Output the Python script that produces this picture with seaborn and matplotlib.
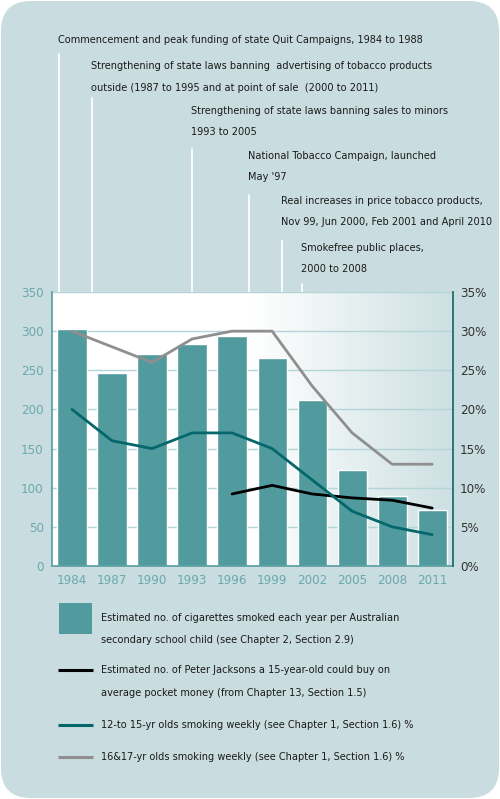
import numpy as np
import pandas as pd
import matplotlib.pyplot as plt
import seaborn as sns
from matplotlib.patches import FancyBboxPatch, Rectangle
from matplotlib.colors import LinearSegmentedColormap

years = ["1984", "1987", "1990", "1993", "1996", "1999", "2002", "2005", "2008", "2011"]
cigarettes = [303, 246, 271, 283, 294, 266, 212, 122, 90, 71]
pj_years = ["1996", "1999", "2002", "2005", "2008", "2011"]
peter_jacksons = [92, 103, 92, 87, 84, 74]
smoke_12_15 = [20, 16, 15, 17, 17, 15, 11, 7, 5, 4]
smoke_16_17 = [30, 28, 26, 29, 30, 30, 23, 17, 13, 13]

events = [
    ["Commencement and peak funding of state Quit Campaigns, 1984 to 1988"],
    ["Strengthening of state laws banning  advertising of tobacco products",
     "outside (1987 to 1995 and at point of sale  (2000 to 2011)"],
    ["Strengthening of state laws banning sales to minors", "1993 to 2005"],
    ["National Tobacco Campaign, launched", "May '97"],
    ["Real increases in price tobacco products,",
     "Nov 99, Jun 2000, Feb 2001 and April 2010"],
    ["Smokefree public places,", "2000 to 2008"],
]
legend_labels = [
    ["Estimated no. of cigarettes smoked each year per Australian",
     "secondary school child (see Chapter 2, Section 2.9)"],
    ["Estimated no. of Peter Jacksons a 15-year-old could buy on",
     "average pocket money (from Chapter 13, Section 1.5)"],
    ["12-to 15-yr olds smoking weekly (see Chapter 1, Section 1.6) %"],
    ["16&17-yr olds smoking weekly (see Chapter 1, Section 1.6) %"],
]

BG = "#c9dcdf"
BAR = "#519b9f"
TEAL = "#03676b"
GRAY = "#8f8f8f"
TICK = "#6aa9ad"

sns.set_theme(style="white")
plt.rcParams["font.family"] = ["DejaVu Sans"]
plt.rcParams["font.stretch"] = "condensed"

W, H = 500, 799
fig = plt.figure(figsize=(5, 7.99), dpi=100, facecolor="white")

# background canvas in pixel coordinates
bg = fig.add_axes([0, 0, 1, 1], zorder=0)
bg.set_xlim(0, W)
bg.set_ylim(H, 0)
bg.axis("off")
bg.add_patch(FancyBboxPatch((1, 1), W - 2, H - 2,
                            boxstyle="round,pad=0,rounding_size=30",
                            fc=BG, ec="none"))

# event annotations
text_x = [59, 92, 192, 249, 282, 302]
text_y = [[40], [66, 88], [111, 132], [156, 177], [201, 222], [248, 269]]
line_top = [54, 98, 149, 195, 241, 284]
for tx, tys, lt, lines in zip(text_x, text_y, line_top, events):
    for ty, lab in zip(tys, lines):
        bg.text(tx - 1, ty, lab, fontsize=7.8, color="#1a1a1a", va="center",
                ha="left", stretch="condensed")
    bg.plot([tx, tx], [lt, 292], color="white", lw=1.3)

# legend
bg.add_patch(Rectangle((59, 603), 33, 31, fc=BAR, ec="none"))
for y, c in zip([670, 725, 757], ["black", TEAL, GRAY]):
    bg.plot([58, 93], [y, y], color=c, lw=2.2, solid_capstyle="butt")
leg_text_y = [[618, 640], [670, 693], [725], [757]]
for tys, lines in zip(leg_text_y, legend_labels):
    for ty, lab in zip(tys, lines):
        bg.text(101, ty, lab, fontsize=7.8, color="#1a1a1a", va="center",
                ha="left", stretch="condensed")

# main chart
ax = fig.add_axes([52 / W, 1 - 566 / H, (453 - 52) / W, (566 - 292) / H], zorder=2)
grad = LinearSegmentedColormap.from_list("g", ["#ffffff", "#ffffff", "#cde0e2"])
ax.imshow(np.linspace(0, 1, 256).reshape(1, -1), cmap=grad, aspect="auto",
          extent=(-0.5, 9.52, 0, 350), zorder=0)

df = pd.DataFrame({"pos": np.arange(len(years)), "cigs": cigarettes,
                   "y12": smoke_12_15, "y16": smoke_16_17})
pj = pd.DataFrame({"pos": [years.index(y) for y in pj_years], "pj": peter_jacksons})

for v in range(50, 351, 50):
    ax.axhline(v, color="#b3d5d7", lw=1, zorder=1)

sns.barplot(data=df, x="pos", y="cigs", color=BAR, width=0.73, saturation=1,
            ax=ax, zorder=2)
sns.lineplot(data=pj, x="pos", y="pj", color="black", lw=2.0, ax=ax, zorder=4)

ax2 = ax.twinx()
sns.lineplot(data=df, x="pos", y="y16", color=GRAY, lw=2.0, ax=ax2, zorder=4)
sns.lineplot(data=df, x="pos", y="y12", color=TEAL, lw=2.0, ax=ax2, zorder=4)

ax.set_xlim(-0.5, 9.52)
ax.set_ylim(0, 350)
ax2.set_ylim(0, 35)
ax.set_xticks(range(len(years)))
ax.set_xticklabels(years)
ax.set_yticks(range(0, 351, 50))
ax2.set_yticks(range(0, 36, 5))
ax2.set_yticklabels([f"{v}%" for v in range(0, 36, 5)])
for a in (ax, ax2):
    a.set_xlabel("")
    a.set_ylabel("")
    a.grid(False)
    a.patch.set_alpha(0)
    a.spines["top"].set_visible(False)
ax.tick_params(axis="both", length=0, labelsize=9.5, colors=TICK, pad=6)
ax2.tick_params(axis="y", length=0, labelsize=9.5, colors="#333333", pad=5)
ax.spines["left"].set_color("#5fa2a5")
ax.spines["bottom"].set_color("#5fa2a5")
ax.spines["right"].set_visible(False)
ax2.spines["left"].set_visible(False)
ax2.spines["bottom"].set_visible(False)
ax2.spines["right"].set_color("#1f6d71")
for a in (ax, ax2):
    for s in a.spines.values():
        s.set_linewidth(1.3)

fig.savefig("out.png", dpi=100, facecolor="white")
